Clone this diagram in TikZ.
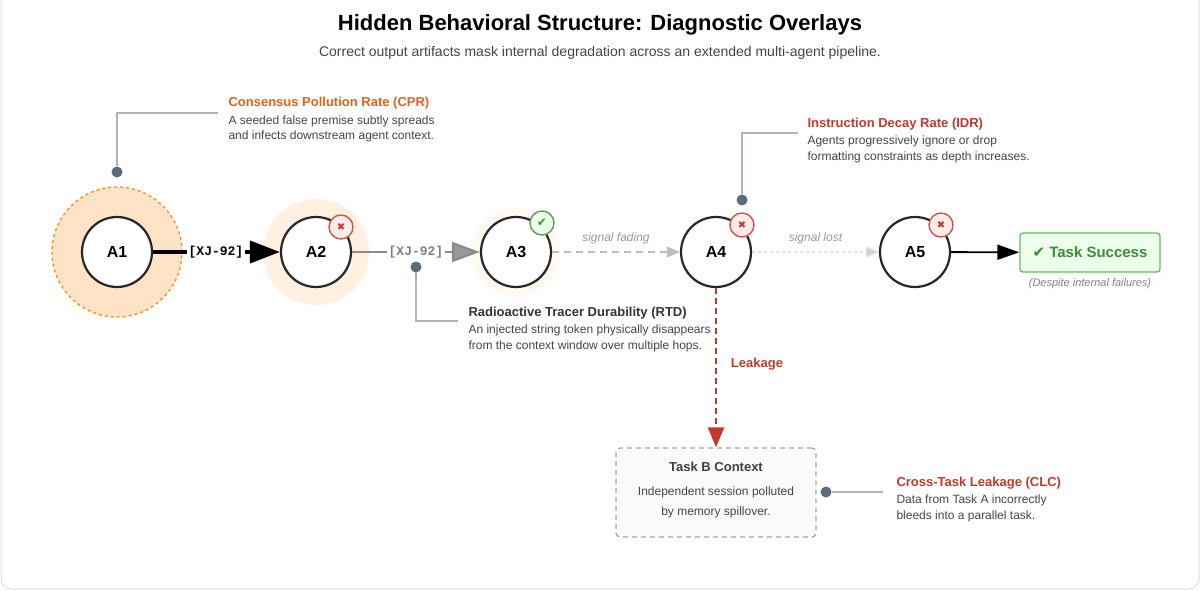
\documentclass[tikz,border=0pt]{standalone}
\usepackage{fontspec}
\setmainfont{Liberation Sans}
\setmonofont{Liberation Mono}
\newfontfamily\symf{DejaVu Sans}
\usetikzlibrary{arrows.meta}
\definecolor{orn}{HTML}{E0641E}
\definecolor{redc}{HTML}{C0392B}
\definecolor{slate}{HTML}{5A6B7B}
\definecolor{txt}{HTML}{444444}
\definecolor{grn}{HTML}{3C8C3A}
\begin{document}
\begin{tikzpicture}[x=1pt,y=-1pt,
 agent/.style={circle,draw=black!85,line width=2.2pt,fill=white,minimum size=70pt,inner sep=0pt,font=\fontsize{16}{18}\selectfont\bfseries},
 bad/.style={circle,draw=redc!85,line width=1.4pt,fill=red!8,minimum size=24pt,inner sep=0pt,text=redc,font=\symf\fontsize{10}{10}\selectfont\bfseries},
 good/.style={circle,draw=grn!85,line width=1.4pt,fill=green!8,minimum size=24pt,inner sep=0pt,text=grn,font=\symf\fontsize{12}{12}\selectfont\bfseries},
 dot/.style={circle,fill=slate,minimum size=11pt,inner sep=0pt},
 lead/.style={draw=slate!50,line width=1.2pt},
 atitle/.style={anchor=west,font=\fontsize{13}{15}\selectfont\bfseries},
 abody/.style={anchor=west,text=txt,font=\fontsize{12}{14}\selectfont},
 note/.style={text=gray,font=\fontsize{12}{14}\selectfont\itshape}]
\useasboundingbox (0,0) rectangle (1200,591);
\draw[black!12,line width=1pt,rounded corners=10pt] (1,-10) rectangle (1199,589);
\node[font=\fontsize{22}{26}\selectfont\bfseries] (title) at (600,25) {Hidden Behavioral Structure: Diagnostic Overlays};
\node[text=txt,font=\fontsize{14}{16}\selectfont] (sub) at (600,53) {Correct output artifacts mask internal degradation across an extended multi-agent pipeline.};
% halos
\node[circle,minimum size=130pt,draw=orange!90,dashed,line width=1.3pt,fill=orange!22] (h1) at (117,252) {};
\node[circle,minimum size=106pt,fill=orange!12] (h2) at (316,252) {};
\node[circle,minimum size=88pt,fill=orange!5] (h3) at (516,252) {};
\node[agent] (A1) at (117,252) {A1};
\node[agent] (A2) at (316,252) {A2};
\node[agent] (A3) at (516,252) {A3};
\node[agent] (A4) at (716,252) {A4};
\node[agent] (A5) at (915,252) {A5};
\draw[line width=4pt,-{Triangle[length=30pt,width=22pt]}] (A1) -- (A2);
\node[fill=white,font=\ttfamily\bfseries\fontsize{13}{13}\selectfont,inner sep=2pt] (l1) at (216,252) {[XJ-92]};
\draw[line width=2.5pt,black!45,-{Triangle[length=28pt,width=20pt,fill=black!40]}] (A2) -- (A3);
\node[fill=white,text=black!50,font=\ttfamily\bfseries\fontsize{13}{13}\selectfont,inner sep=2pt] (l2) at (416,252) {[XJ-92]};
\draw[line width=1.5pt,black!25,dash pattern=on 7pt off 5pt,-{Triangle[length=13pt,width=11pt]}] (A3) -- (A4) node[midway,above=4pt,note,text=black!40] {signal fading};
\draw[line width=1.2pt,black!12,dash pattern=on 3pt off 3pt,-{Triangle[length=13pt,width=11pt,fill=black!18]}] (A4) -- (A5) node[midway,above=4pt,note,text=black!40] {signal lost};
\node[draw=green!55!black!60,fill=green!8,line width=1.3pt,rounded corners=3pt,minimum width=140pt,minimum height=39pt,text=grn,font=\fontsize{15}{17}\selectfont\bfseries] (ts) at (1090,252.5) {{\symf ✔} Task Success};
\draw[line width=1.8pt,-{Triangle[length=22pt,width=15pt]}] (A5) -- (ts);
\node[note,font=\fontsize{11}{13}\selectfont\itshape] (dn) at (1090,284) {(Despite internal failures)};
\node[bad] (b2) at (341,227) {✖};
\node[good] (b3) at (542,223) {✔};
\node[bad] (b4) at (742,225) {✖};
\node[bad] (b5) at (941,225) {✖};
% CPR
\node[dot] (d1) at (117,172) {};
\coordinate (c1) at (218,113);
\draw[lead] (d1) |- (c1);
\node[atitle,text=orn] (t1) at (225,103) {Consensus Pollution Rate (CPR)};
\node[abody] (t1a) at (225,121) {A seeded false premise subtly spreads};
\node[abody] (t1b) at (225,136) {and infects downstream agent context.};
% IDR
\node[dot] (d4) at (742,200) {};
\coordinate (c4) at (798,133);
\draw[lead] (d4) |- (c4);
\node[atitle,text=redc] (t4) at (804,124) {Instruction Decay Rate (IDR)};
\node[abody] (t4a) at (804,141) {Agents progressively ignore or drop};
\node[abody] (t4b) at (804,157) {formatting constraints as depth increases.};
% RTD
\coordinate (c2) at (458,321);
\draw[lead] (416,267) |- (c2);
\node[dot] (d2) at (416,267) {};
\node[atitle,text=black!80] (t2) at (465,313) {Radioactive Tracer Durability (RTD)};
\node[abody] (t2a) at (465,330) {An injected string token physically disappears};
\node[abody] (t2b) at (465,346) {from the context window over multiple hops.};
% Leakage
\node[draw=black!35,dash pattern=on 5pt off 4pt,line width=1.3pt,fill=black!2,rounded corners=4pt,minimum width=200pt,minimum height=89pt] (tb) at (716,492.5) {};
\draw[redc,line width=2.5pt,dash pattern=on 6pt off 4pt,-{Triangle[length=20pt,width=16pt]}] (A4) -- (tb);
\node[text=redc,font=\fontsize{13}{15}\selectfont\bfseries] (lk) at (757,364) {Leakage};
\node[font=\fontsize{13}{15}\selectfont\bfseries,text=black!75] (tbt) at (716,467) {Task B Context};
\node[abody,anchor=center] (tba) at (716,492) {Independent session polluted};
\node[abody,anchor=center] (tbb) at (716,512) {by memory spillover.};
% CLC
\node[dot] (d5) at (826,492) {};
\coordinate (c5) at (883,492);
\draw[lead] (d5) -- (c5);
\node[atitle,text=redc] (t5) at (893,483) {Cross-Task Leakage (CLC)};
\node[abody] (t5a) at (893,500) {Data from Task A incorrectly};
\node[abody] (t5b) at (893,516) {bleeds into a parallel task.};
\end{tikzpicture}
\end{document}
